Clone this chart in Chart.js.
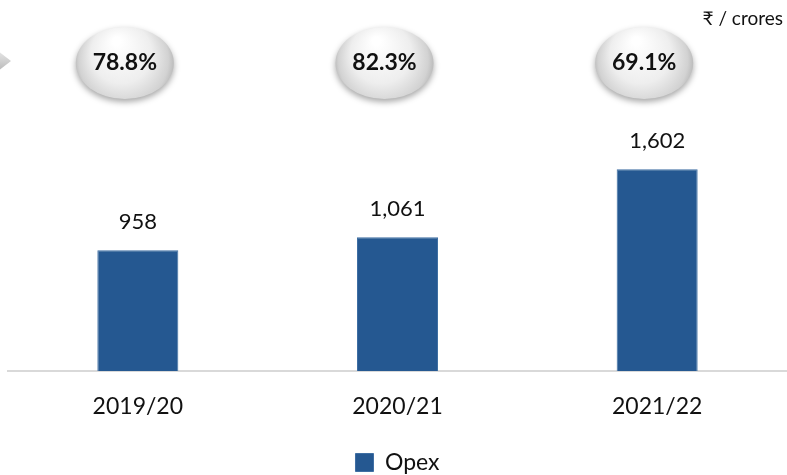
<!DOCTYPE html>
<html>
<head>
<meta charset="utf-8">
<script src="https://cdn.jsdelivr.net/npm/chart.js@4"></script>
<style>
  html, body { margin: 0; padding: 0; background: #fff; }
  #wrap { width: 787px; height: 475px; position: relative; }
</style>
</head>
<body>
<div id="wrap"><canvas id="opex-chart"></canvas></div>
<script>
// Chart values
const years = ['2019/20', '2020/21', '2021/22'];
const opex = [958, 1061, 1602];
const ratios = ['78.8%', '82.3%', '69.1%'];
const unitLabel = '₹ / crores';

const FONT = 'Lato, "Open Sans", sans-serif';

// Value labels above each bar
const barLabels = {
    id: 'barLabels',
    afterDatasetsDraw(chart) {
        const ctx = chart.ctx;
        const meta = chart.getDatasetMeta(0);
        ctx.save();
        ctx.font = '22px ' + FONT;
        ctx.fillStyle = '#111';
        ctx.textAlign = 'center';
        ctx.textBaseline = 'middle';
        meta.data.forEach((bar, i) => {
            ctx.fillText(opex[i].toLocaleString('en-US'), bar.x, bar.y - 28);
        });
        ctx.restore();
    }
};

// Grey glossy bubbles with the ratio, plus unit text and the cut-off arrow on the left
const bubbles = {
    id: 'bubbles',
    afterDraw(chart) {
        const ctx = chart.ctx;
        const xs = chart.scales.x;
        ctx.save();

        // arrow tip at the left edge
        let g = ctx.createLinearGradient(0, 44, 0, 78);
        g.addColorStop(0, '#f4f4f4');
        g.addColorStop(0.5, '#d0d0d0');
        g.addColorStop(1, '#a8a8a8');
        ctx.beginPath();
        ctx.moveTo(-12, 43);
        ctx.lineTo(11, 61);
        ctx.lineTo(-12, 79);
        ctx.closePath();
        ctx.fillStyle = g;
        ctx.fill();

        const cy = 63;
        years.forEach((y, i) => {
            const cx = xs.getPixelForValue(i) - 13;
            ctx.save();
            ctx.shadowColor = 'rgba(0,0,0,0.35)';
            ctx.shadowBlur = 6;
            ctx.shadowOffsetY = 3;
            const rg = ctx.createRadialGradient(cx - 8, cy - 22, 4, cx, cy, 52);
            rg.addColorStop(0, '#ffffff');
            rg.addColorStop(0.55, '#eeeeee');
            rg.addColorStop(0.85, '#d2d2d2');
            rg.addColorStop(1, '#b0b0b0');
            ctx.beginPath();
            ctx.ellipse(cx, cy, 49, 36, 0, 0, Math.PI * 2);
            ctx.fillStyle = rg;
            ctx.fill();
            ctx.restore();

            ctx.font = 'bold 23px ' + FONT;
            ctx.fillStyle = '#111';
            ctx.textAlign = 'center';
            ctx.textBaseline = 'middle';
            ctx.fillText(ratios[i], cx, cy);
        });

        ctx.font = '19px ' + FONT;
        ctx.fillStyle = '#111';
        ctx.textAlign = 'right';
        ctx.textBaseline = 'middle';
        ctx.fillText(unitLabel, 783, 19);
        ctx.restore();
    }
};

const ctx = document.getElementById('opex-chart').getContext('2d');

const chart = new Chart(ctx, {
    type: 'bar',
    data: {
        labels: years,
        datasets: [
            {
                label: 'Opex',
                data: opex,
                backgroundColor: '#255891',
                borderColor: '#3f6fa3',
                borderWidth: 1,
                barPercentage: 0.312,
                categoryPercentage: 1
            }
        ]
    },
    options: {
        responsive: true,
        maintainAspectRatio: false,
        animation: false,
        layout: {
            padding: { top: 119, left: 8, right: 0, bottom: -9 }
        },
        plugins: {
            tooltip: { enabled: false },
            legend: {
                position: 'bottom',
                labels: {
                    color: '#111',
                    font: { family: FONT, size: 23 },
                    boxWidth: 18,
                    boxHeight: 18,
                    padding: 0
                }
            }
        },
        scales: {
            x: {
                grid: { display: false, drawTicks: false },
                border: { display: true, color: '#d9d9d9', width: 2 },
                ticks: {
                    color: '#111',
                    font: { family: FONT, size: 23 },
                    padding: 22
                },
                afterFit: (axis) => { axis.height = 80; }
            },
            y: {
                display: false,
                min: 0,
                max: 2000
            }
        }
    },
    plugins: [barLabels, bubbles]
});
</script>
</body>
</html>
